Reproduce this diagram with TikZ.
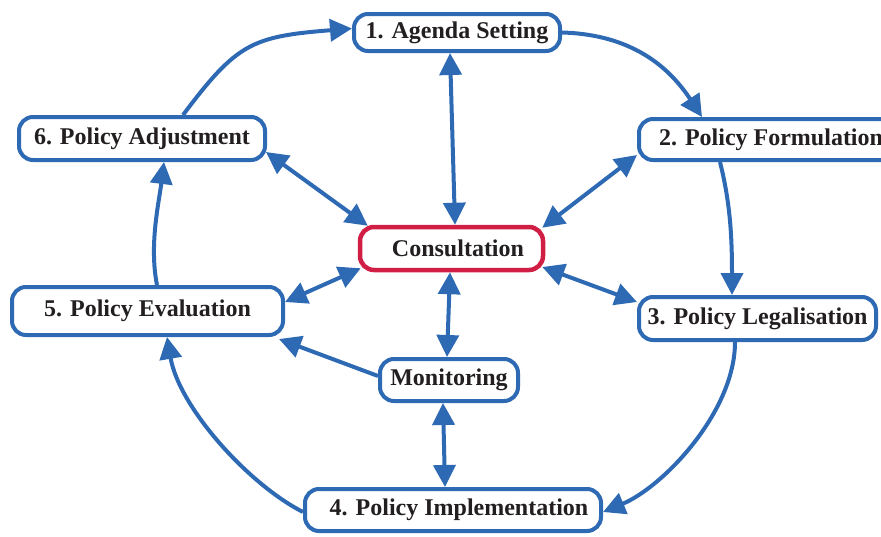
\documentclass[tikz,border=0pt]{standalone}
\usepackage{fontspec}
\setmainfont{Liberation Serif}
\usetikzlibrary{arrows.meta,calc}
\definecolor{flowblue}{RGB}{46,106,180}
\definecolor{hubred}{RGB}{208,30,68}
\definecolor{labelink}{RGB}{35,31,32}
\begin{document}
\begin{tikzpicture}[x=1pt,y=-1pt,
  stage/.style={draw=flowblue, line width=4pt, rounded corners=14pt, fill=white,
    inner sep=0pt, text=labelink, font=\fontsize{24}{28}\selectfont\bfseries},
  hub/.style={stage, draw=hubred, line width=4.5pt},
  flow/.style={draw=flowblue, line width=4pt, -{Triangle[length=22pt,width=22pt]}},
  twoway/.style={flow, {Triangle[length=22pt,width=22pt]}-{Triangle[length=22pt,width=22pt]}}
]
\useasboundingbox (0,0) rectangle (881,536);
\clip (0,0) rectangle (881,536);

% policy cycle stages
\node[stage, minimum width=206pt, minimum height=37pt] (agenda) at (457,32.5) {1. Agenda Setting};
\node[stage, minimum width=264pt, minimum height=41pt] (form) at (771,139.5) {2. Policy Formulation};
\node[stage, minimum width=237pt, minimum height=43pt] (leg) at (757.5,318.5) {3. Policy Legalisation};
\node[stage, minimum width=296pt, minimum height=42pt] (impl) at (453,510) {\hspace*{12pt}4. Policy Implementation};
\node[stage, minimum width=271pt, minimum height=48pt] (eval) at (147.5,311) {5. Policy Evaluation};
\node[stage, minimum width=246pt, minimum height=43pt] (adj) at (142,138.5) {6. Policy Adjustment};

% central hub and monitoring
\node[hub, minimum width=183pt, minimum height=43pt] (consult) at (451.5,248.5) {\hspace*{13pt}Consultation};
\node[stage, minimum width=138pt, minimum height=42pt] (monitor) at (449,380) {Monitoring};

% outer cycle
\draw[flow] ($(adj.north)+(41,0)$) .. controls +(54,-72) and +(-100,8) .. ($(agenda.west)+(0,-4)$);
\draw[flow] (agenda.east) .. controls +(70,2) and +(-33,-50) .. ($(form.north)+(-69,0)$);
\draw[flow] ($(form.south)+(-51,0)$) .. controls +(10,40) and +(0,-60) .. ($(leg.north)+(-25.5,0)$);
\draw[flow] ($(leg.south)+(-22.5,0)$) .. controls +(0,70) and +(60,-25) .. ($(impl.east)+(0,2)$);
\draw[flow] ($(impl.west)+(0,2)$) .. controls +(-55,-28) and +(12,70) .. ($(eval.south)+(19.5,0)$);
\draw[flow] ($(eval.north)+(9.5,0)$) .. controls +(-8,-40) and +(-5,40) .. ($(adj.south)+(22,0)$);

% links to consultation
\draw[twoway] ($(agenda.south)+(-7,0)$) -- ($(consult.north)+(3.5,0)$);
\draw[twoway] ($(form.west)+(0,15.5)$) -- ($(consult.north east)+(-3,3)$);
\draw[twoway] ($(consult.east)+(-3,18.5)$) -- ($(leg.west)+(0,-16.5)$);
\draw[twoway] ($(adj.east)+(-1,13.5)$) -- ($(consult.north west)+(10,1)$);
\draw[twoway] ($(eval.east)+(0,-9)$) -- ($(consult.south west)+(3,-4)$);
\draw[twoway] ($(consult.south)+(-1.5,0)$) -- ($(monitor.north)+(-2,0)$);

% monitoring links
\draw[twoway] ($(monitor.south)+(-6,0)$) -- ($(impl.north)+(-8,0)$);
\draw[flow] ($(monitor.west)+(0,-4)$) -- ($(eval.south east)+(-6,2)$);
\end{tikzpicture}
\end{document}
